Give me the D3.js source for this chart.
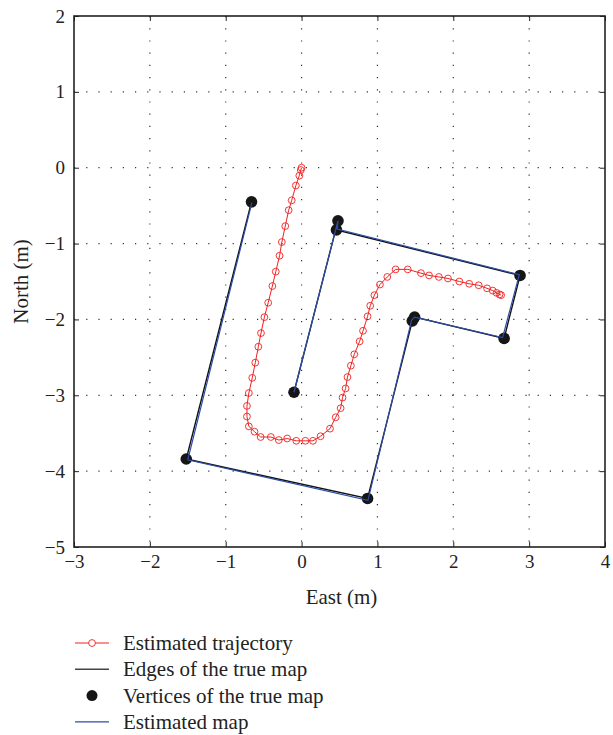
<!DOCTYPE html>
<html>
<head>
<meta charset="utf-8">
<script src="https://cdn.jsdelivr.net/npm/d3@7"></script>
<style>
  body { margin: 0; background: #fff; }
  text { font-family: "Liberation Serif", "DejaVu Serif", serif; fill: #222; }
</style>
</head>
<body>
<div id="chart"></div>
<script>
// estimated trajectory (m)
const trajEast = [0.00, -0.01, -0.03, -0.075, -0.13, -0.17, -0.215, -0.26, -0.29, -0.34,
  -0.385, -0.44, -0.49, -0.535, -0.57, -0.61, -0.65, -0.695, -0.72, -0.72,
  -0.695, -0.62, -0.54, -0.405, -0.30, -0.19, -0.07, 0.05, 0.15, 0.25,
  0.375, 0.45, 0.515, 0.54, 0.58, 0.605, 0.65, 0.695, 0.765, 0.81,
  0.87, 0.905, 0.96, 1.033, 1.13, 1.24, 1.40, 1.574, 1.68, 1.81,
  1.93, 2.08, 2.21, 2.335, 2.445, 2.52, 2.57, 2.61, 2.63];
const trajNorth = [0.00, -0.03, -0.105, -0.235, -0.43, -0.56, -0.77, -0.98, -1.16, -1.37,
  -1.56, -1.78, -1.97, -2.18, -2.36, -2.57, -2.77, -2.97, -3.14, -3.28,
  -3.41, -3.48, -3.55, -3.55, -3.59, -3.57, -3.60, -3.60, -3.60, -3.54,
  -3.44, -3.29, -3.17, -3.03, -2.91, -2.76, -2.61, -2.46, -2.29, -2.15,
  -1.96, -1.82, -1.68, -1.54, -1.44, -1.34, -1.34, -1.39, -1.42, -1.44,
  -1.46, -1.50, -1.53, -1.55, -1.59, -1.62, -1.65, -1.67, -1.68];

// true map vertices, edges join them in this order
const vertexEast = [-0.66, -1.52, 0.87, 1.46, 1.49, 2.67, 2.88, 0.46, 0.48, -0.10];
const vertexNorth = [-0.45, -3.84, -4.36, -2.02, -1.97, -2.25, -1.42, -0.82, -0.70, -2.96];

// estimated map
const estEast = [-0.655, -1.50, 0.875, 1.45, 1.49, 2.65, 2.87, 0.47, 0.48, -0.10];
const estNorth = [-0.46, -3.85, -4.385, -2.01, -1.97, -2.24, -1.41, -0.81, -0.70, -2.96];

const xTicks = [-3, -2, -1, 0, 1, 2, 3, 4];
const yTicks = [-5, -4, -3, -2, -1, 0, 1, 2];
const legendLabels = ["Estimated trajectory", "Edges of the true map", "Vertices of the true map", "Estimated map"];

const W = 613, H = 735;
const margin = { top: 16, left: 74 };
const width = 531, height = 531;

const svg = d3.select("#chart").append("svg")
  .attr("width", W).attr("height", H);
const g = svg.append("g")
  .attr("transform", "translate(" + margin.left + "," + margin.top + ")");

const x = d3.scaleLinear().domain([-3, 4]).range([0, width]);
const y = d3.scaleLinear().domain([-5, 2]).range([height, 0]);
const fmt = d => d < 0 ? "\u2212" + Math.abs(d) : "" + d;

// dotted grid
g.selectAll(".gx").data(xTicks.slice(1, -1)).enter().append("line")
  .attr("x1", d => x(d)).attr("x2", d => x(d))
  .attr("y1", 0).attr("y2", height)
  .attr("stroke", "#333").attr("stroke-width", 1.2)
  .attr("stroke-dasharray", "1.2,11");
g.selectAll(".gy").data(yTicks.slice(1, -1)).enter().append("line")
  .attr("y1", d => y(d)).attr("y2", d => y(d))
  .attr("x1", 0).attr("x2", width)
  .attr("stroke", "#333").attr("stroke-width", 1.2)
  .attr("stroke-dasharray", "1.2,11");

// axes, ticks inward on all four sides
const axB = g.append("g").attr("transform", "translate(0," + height + ")")
  .call(d3.axisBottom(x).tickValues(xTicks).tickSize(-5).tickPadding(8).tickFormat(fmt));
const axL = g.append("g")
  .call(d3.axisLeft(y).tickValues(yTicks).tickSize(-5).tickPadding(9).tickFormat(fmt));
const axT = g.append("g")
  .call(d3.axisTop(x).tickValues(xTicks).tickSize(-5).tickFormat(""));
const axR = g.append("g").attr("transform", "translate(" + width + ",0)")
  .call(d3.axisRight(y).tickValues(yTicks).tickSize(-5).tickFormat(""));
[axB, axL, axT, axR].forEach(a => {
  a.select(".domain").remove();
  a.selectAll(".tick line").attr("stroke", "#222").attr("stroke-width", 1);
  a.selectAll("text").attr("font-size", 19).style("font-family", "Liberation Serif").attr("fill", "#222");
});
g.append("rect").attr("width", width).attr("height", height)
  .attr("fill", "none").attr("stroke", "#222").attr("stroke-width", 1.6);

const line = d3.line().x(d => x(d[0])).y(d => y(d[1]));

// true map edges
g.append("path")
  .datum(vertexEast.map((e, i) => [e, vertexNorth[i]]))
  .attr("d", line).attr("fill", "none")
  .attr("stroke", "#111").attr("stroke-width", 1.4);

// vertices
g.selectAll(".vtx").data(vertexEast.map((e, i) => [e, vertexNorth[i]])).enter().append("circle")
  .attr("cx", d => x(d[0])).attr("cy", d => y(d[1])).attr("r", 5.8)
  .attr("fill", "#161616");

// estimated map
g.append("path")
  .datum(estEast.map((e, i) => [e, estNorth[i]]))
  .attr("d", line).attr("fill", "none")
  .attr("stroke", "#2c4ea8").attr("stroke-width", 1.2);

// trajectory
const traj = trajEast.map((e, i) => [e, trajNorth[i]]);
g.append("path").datum(traj).attr("d", line)
  .attr("fill", "none").attr("stroke", "#f02020").attr("stroke-width", 1);
g.selectAll(".tp").data(traj).enter().append("circle")
  .attr("cx", d => x(d[0])).attr("cy", d => y(d[1])).attr("r", 3.4)
  .attr("fill", "none").attr("stroke", "#f02020").attr("stroke-width", 0.9);

// axis titles
svg.append("text").attr("x", margin.left + width / 2 + 2).attr("y", 604)
  .attr("text-anchor", "middle").attr("font-size", 21).text("East (m)");
svg.append("text").attr("transform", "translate(28," + (margin.top + height / 2) + ") rotate(-90)")
  .attr("text-anchor", "middle").attr("font-size", 21).text("North (m)");

// legend
const leg = svg.append("g").attr("transform", "translate(75,643)");
const rowH = 26.3;
legendLabels.forEach((lab, i) => {
  const r = leg.append("g").attr("transform", "translate(0," + i * rowH + ")");
  if (i === 0) {
    r.append("line").attr("x1", 0).attr("x2", 34).attr("stroke", "#f02020").attr("stroke-width", 1);
    r.append("circle").attr("cx", 17).attr("r", 3.4).attr("fill", "#fff")
      .attr("stroke", "#f02020").attr("stroke-width", 0.9);
  } else if (i === 1) {
    r.append("line").attr("x1", 0).attr("x2", 34).attr("stroke", "#444").attr("stroke-width", 1.4);
  } else if (i === 2) {
    r.append("circle").attr("cx", 17).attr("r", 5.5).attr("fill", "#161616");
  } else {
    r.append("line").attr("x1", 0).attr("x2", 34).attr("stroke", "#2c4ea8").attr("stroke-width", 1.2);
  }
  r.append("text").attr("x", 48).attr("dy", "0.33em").attr("font-size", 21).text(lab);
});
</script>
</body>
</html>
